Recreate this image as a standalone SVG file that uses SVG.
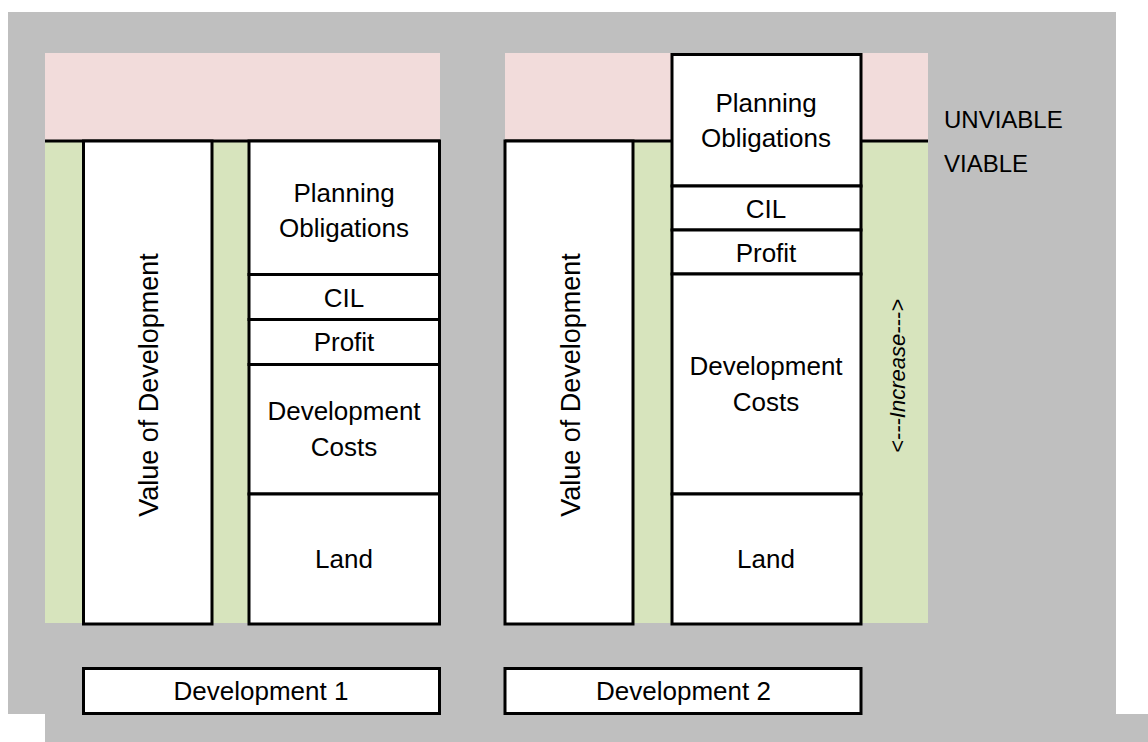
<svg xmlns="http://www.w3.org/2000/svg" width="1148" height="742" viewBox="0 0 1148 742">
  <style>
    .box { fill: #ffffff; stroke: #000000; stroke-width: 3; }
    .lbl { font-family: "Liberation Sans", Arial, sans-serif; font-size: 26px; fill: #000000; text-anchor: middle; }
    .side { font-family: "Liberation Sans", Arial, sans-serif; font-size: 24px; fill: #000000; }
    .inc { font-family: "Liberation Sans", Arial, sans-serif; font-size: 22px; font-style: italic; fill: #000000; text-anchor: middle; }
    .pink { fill: #F2DCDB; }
    .green { fill: #D7E4BD; }
    .divider { stroke: #000000; stroke-width: 3; }
  </style>

  <!-- background -->
  <rect x="8" y="12" width="1108" height="702" fill="#BFBFBF"/>
  <rect x="45" y="714" width="1103" height="28" fill="#BFBFBF"/>

  <!-- zones -->
  <rect class="pink" x="45" y="53" width="395" height="88"/>
  <rect class="green" x="45" y="141" width="395" height="482"/>
  <rect class="pink" x="505" y="53" width="423" height="88"/>
  <rect class="green" x="505" y="141" width="423" height="482"/>
  <line class="divider" x1="45" y1="141" x2="440" y2="141"/>
  <line class="divider" x1="505" y1="141" x2="928" y2="141"/>

  <g id="connectors"></g>

  <!-- Development 1 -->
  <g id="dev1-value">
    <rect class="box" x="83.5" y="141" width="128.5" height="483"/>
    <text class="lbl" transform="translate(158,385) rotate(-90)" style="font-size:27px">Value of Development</text>
  </g>
  <g id="dev1-planning">
    <rect class="box" x="249" y="141" width="190.5" height="133.5"/>
    <text class="lbl" x="344" y="202">Planning</text>
    <text class="lbl" x="344" y="237">Obligations</text>
  </g>
  <g id="dev1-cil">
    <rect class="box" x="249" y="274.5" width="190.5" height="45"/>
    <text class="lbl" x="344" y="306.5">CIL</text>
  </g>
  <g id="dev1-profit">
    <rect class="box" x="249" y="319.5" width="190.5" height="45"/>
    <text class="lbl" x="344" y="351">Profit</text>
  </g>
  <g id="dev1-costs">
    <rect class="box" x="249" y="364.5" width="190.5" height="129.5"/>
    <text class="lbl" x="344" y="420">Development</text>
    <text class="lbl" x="344" y="456">Costs</text>
  </g>
  <g id="dev1-land">
    <rect class="box" x="249" y="494" width="190.5" height="130"/>
    <text class="lbl" x="344" y="568">Land</text>
  </g>
  <g id="dev1-label">
    <rect class="box" x="83.5" y="668.5" width="356" height="45"/>
    <text class="lbl" x="261" y="700">Development 1</text>
  </g>

  <!-- Development 2 -->
  <g id="dev2-value">
    <rect class="box" x="505" y="141" width="128" height="483"/>
    <text class="lbl" transform="translate(580,385) rotate(-90)" style="font-size:27px">Value of Development</text>
  </g>
  <g id="dev2-planning">
    <rect class="box" x="672" y="54.5" width="189" height="131.5"/>
    <text class="lbl" x="766" y="112">Planning</text>
    <text class="lbl" x="766" y="147">Obligations</text>
  </g>
  <g id="dev2-cil">
    <rect class="box" x="672" y="186" width="189" height="44"/>
    <text class="lbl" x="766" y="218">CIL</text>
  </g>
  <g id="dev2-profit">
    <rect class="box" x="672" y="230" width="189" height="44"/>
    <text class="lbl" x="766" y="261.5">Profit</text>
  </g>
  <g id="dev2-costs">
    <rect class="box" x="672" y="274" width="189" height="220"/>
    <text class="lbl" x="766" y="375">Development</text>
    <text class="lbl" x="766" y="411">Costs</text>
  </g>
  <g id="dev2-land">
    <rect class="box" x="672" y="494" width="189" height="130"/>
    <text class="lbl" x="766" y="568">Land</text>
  </g>
  <g id="dev2-label">
    <rect class="box" x="505" y="668.5" width="356" height="45"/>
    <text class="lbl" x="683.5" y="700">Development 2</text>
  </g>

  <g id="increase">
    <text class="inc" transform="translate(905,376) rotate(-90)">&lt;---Increase---&gt;</text>
  </g>

  <g id="zone-labels">
    <text class="side" x="944" y="128">UNVIABLE</text>
    <text class="side" x="944" y="172">VIABLE</text>
  </g>
</svg>
